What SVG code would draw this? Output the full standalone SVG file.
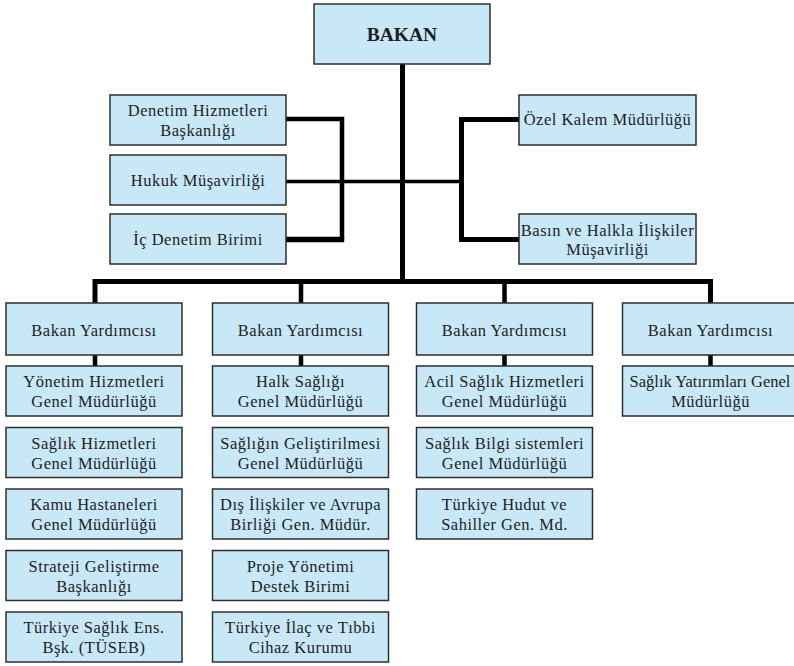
<svg xmlns="http://www.w3.org/2000/svg" width="794" height="666" viewBox="0 0 794 666">
<style>
.b{fill:#c8e8f8;stroke:#2e2e2e;stroke-width:1.5}
.t{font-family:"Liberation Serif","Times New Roman",serif;font-size:16.5px;letter-spacing:0.5px;fill:#1e1e1e;text-anchor:middle}
.h{font-weight:bold;font-size:19.5px;letter-spacing:0}
.n{letter-spacing:0}
.c{fill:none;stroke:#000;stroke-linejoin:miter;stroke-linecap:butt}
</style>
<rect width="794" height="666" fill="#fff"/>
<g id="connectors">
<path class="c" d="M402.5,64V281.5" stroke-width="5"/>
<path class="c" d="M95,303V281.5H710.5V303" stroke-width="5"/>
<path class="c" d="M301,281.5V303M504.5,281.5V303" stroke-width="4.5"/>
<path class="c" d="M286,119H342V239" stroke-width="4.5"/>
<path class="c" d="M286,239.5H344.2" stroke-width="5.5"/>
<path class="c" d="M286,181.5H461.5" stroke-width="3.5"/>
<path class="c" d="M519,119.5H461.5V239.5H519" stroke-width="5"/>
<path class="c" d="M95,355V366M301,355V366M504.5,355V366M710.5,355V366" stroke-width="4.5"/>
</g>
<g id="bakan"><rect class="b" x="314" y="4" width="176" height="60"/><text class="t h" x="402" y="41">BAKAN</text></g>
<g id="denetim"><rect class="b" x="110" y="95" width="176" height="50"/><text class="t" x="198" y="116">Denetim Hizmetleri</text><text class="t" x="198" y="136">Başkanlığı</text></g>
<g id="hukuk"><rect class="b" x="110" y="155" width="176" height="50"/><text class="t" x="198" y="186">Hukuk Müşavirliği</text></g>
<g id="icdenetim"><rect class="b" x="110" y="214" width="176" height="50"/><text class="t" x="198" y="245">İç Denetim Birimi</text></g>
<g id="ozelkalem"><rect class="b" x="519" y="95" width="177" height="50"/><text class="t" x="607.5" y="125">Özel Kalem Müdürlüğü</text></g>
<g id="basin"><rect class="b" x="519" y="214" width="177" height="50"/><text class="t" x="607.5" y="235.5">Basın ve Halkla İlişkiler</text><text class="t" x="607.5" y="255">Müşavirliği</text></g>

<g id="by1"><rect class="b" x="6" y="303" width="176" height="52"/><text class="t" x="94" y="336">Bakan Yardımcısı</text></g>
<g id="by2"><rect class="b" x="212.5" y="303" width="176" height="52"/><text class="t" x="300.5" y="336">Bakan Yardımcısı</text></g>
<g id="by3"><rect class="b" x="416.5" y="303" width="176" height="52"/><text class="t" x="504.5" y="336">Bakan Yardımcısı</text></g>
<g id="by4"><rect class="b" x="622.5" y="303" width="176" height="52"/><text class="t" x="710.5" y="336">Bakan Yardımcısı</text></g>

<g id="c1n1"><rect class="b" x="6" y="366" width="176" height="50"/><text class="t" x="94" y="387">Yönetim Hizmetleri</text><text class="t" x="94" y="407">Genel Müdürlüğü</text></g>
<g id="c1n2"><rect class="b" x="6" y="427.5" width="176" height="50"/><text class="t" x="94" y="448.5">Sağlık Hizmetleri</text><text class="t" x="94" y="468.5">Genel Müdürlüğü</text></g>
<g id="c1n3"><rect class="b" x="6" y="489" width="176" height="50"/><text class="t" x="94" y="510">Kamu Hastaneleri</text><text class="t" x="94" y="530">Genel Müdürlüğü</text></g>
<g id="c1n4"><rect class="b" x="6" y="550.5" width="176" height="50"/><text class="t" x="94" y="571.5">Strateji Geliştirme</text><text class="t" x="94" y="591.5">Başkanlığı</text></g>
<g id="c1n5"><rect class="b" x="6" y="612" width="176" height="50"/><text class="t" x="94" y="633">Türkiye Sağlık Ens.</text><text class="t" x="94" y="653">Bşk. (TÜSEB)</text></g>

<g id="c2n1"><rect class="b" x="212.5" y="366" width="176" height="50"/><text class="t" x="300.5" y="387">Halk Sağlığı</text><text class="t" x="300.5" y="407">Genel Müdürlüğü</text></g>
<g id="c2n2"><rect class="b" x="212.5" y="427.5" width="176" height="50"/><text class="t" x="300.5" y="448.5">Sağlığın Geliştirilmesi</text><text class="t" x="300.5" y="468.5">Genel Müdürlüğü</text></g>
<g id="c2n3"><rect class="b" x="212.5" y="489" width="176" height="50"/><text class="t" x="300.5" y="510">Dış İlişkiler ve Avrupa</text><text class="t" x="300.5" y="530">Birliği Gen. Müdür.</text></g>
<g id="c2n4"><rect class="b" x="212.5" y="550.5" width="176" height="50"/><text class="t" x="300.5" y="571.5">Proje Yönetimi</text><text class="t" x="300.5" y="591.5">Destek Birimi</text></g>
<g id="c2n5"><rect class="b" x="212.5" y="612" width="176" height="50"/><text class="t" x="300.5" y="633">Türkiye İlaç ve Tıbbi</text><text class="t" x="300.5" y="653">Cihaz Kurumu</text></g>

<g id="c3n1"><rect class="b" x="416.5" y="366" width="176" height="50"/><text class="t" x="504.5" y="387">Acil Sağlık Hizmetleri</text><text class="t" x="504.5" y="407">Genel Müdürlüğü</text></g>
<g id="c3n2"><rect class="b" x="416.5" y="427.5" width="176" height="50"/><text class="t" x="504.5" y="448.5">Sağlık Bilgi sistemleri</text><text class="t" x="504.5" y="468.5">Genel Müdürlüğü</text></g>
<g id="c3n3"><rect class="b" x="416.5" y="489" width="176" height="50"/><text class="t" x="504.5" y="510">Türkiye Hudut ve</text><text class="t" x="504.5" y="530">Sahiller Gen. Md.</text></g>

<g id="c4n1"><rect class="b" x="622.5" y="366" width="176" height="50"/><text class="t n" x="710" y="387">Sağlık Yatırımları Genel</text><text class="t" x="710.5" y="407">Müdürlüğü</text></g>
</svg>
